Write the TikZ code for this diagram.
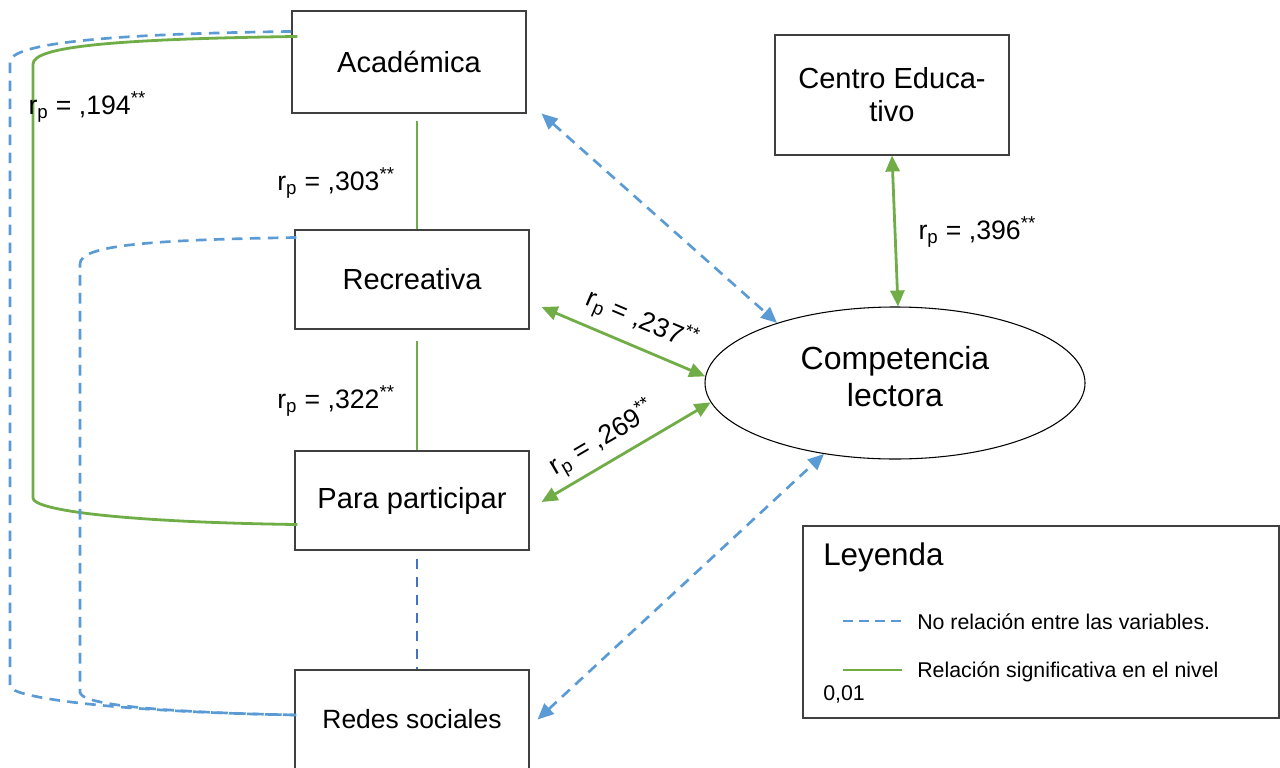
\documentclass[tikz,border=0pt]{standalone}
\usepackage{fontspec}
\setmainfont{Liberation Sans}
\usetikzlibrary{arrows.meta,calc,shapes.geometric}
\definecolor{grn}{HTML}{70AD47}
\definecolor{blu}{HTML}{5B9BD5}
\definecolor{dblu}{HTML}{4472C4}
\definecolor{edgegray}{HTML}{404040}
\begin{document}
\begin{tikzpicture}[x=0.75pt,y=-0.75pt,
 box/.style={draw=edgegray,line width=0.8pt,minimum width=175.5pt,inner sep=0pt,align=center,font=\fontsize{21.8}{24.75}\selectfont},
 gline/.style={draw=grn,line width=2.1pt},
 bdash/.style={draw=blu,line width=2pt,dash pattern=on 8pt off 5.5pt},
 dbdash/.style={draw=dblu,line width=2pt,dash pattern=on 7.5pt off 6pt},
 dbl/.style={{Triangle[length=12pt,width=10.5pt]}-{Triangle[length=12pt,width=10.5pt]}},
 lab/.style={font=\fontsize{20}{24}\selectfont,inner sep=1pt},
 legtxt/.style={font=\fontsize{16}{19}\selectfont,inner sep=0pt,anchor=west}
]
\useasboundingbox (0,0) rectangle (1280,767);
% nodes
\node[box,minimum height=76.5pt] (acad) at (409,62) {Académica};
\node[box,minimum height=74.25pt] (rec) at (412,279.5) {Recreativa};
\node[box,minimum height=74.25pt] (par) at (412,500.5) {Para participar};
\node[box,minimum height=74.25pt,font=\fontsize{19.8}{24}\selectfont] (red) at (412,719.5) {Redes sociales};
\node[box,minimum height=90pt] (cen) at (892,95) {Centro Educa-\\tivo};
\node[ellipse,draw=black,line width=0.8pt,minimum width=285pt,minimum height=114pt,inner sep=0pt,
  label={[align=center,font=\fontsize{24}{27.75}\selectfont,yshift=5pt]center:Competencia\\lectora}] (comp) at (895,383) {};

% vertical links
\draw[gline] ($(acad.south)+(8,7)$) -- ($(rec.north)+(5,0)$);
\draw[gline] ($(rec.south)+(5,11)$) -- ($(par.north)+(5,0)$);
\draw[dbdash] ($(par.south)+(5,8)$) -- ($(red.north)+(5,0)$);

% left curves
\draw[gline] ($(acad.north west)+(6,26)$) .. controls (120,39) and (33,46) .. (33,64)
  -- (33,498) .. controls (33,510) and (120,522) .. ($(par.south west)+(3,-26)$);
\draw[bdash] ($(acad.north west)+(0,21)$) .. controls (100,34) and (10,44) .. (10,62)
  -- (10,686) .. controls (10,698) and (120,712) .. ($(red.west)+(2,-4.5)$);
\draw[bdash] ($(rec.north west)+(2,8)$) .. controls (150,240) and (80,245) .. (80,264)
  -- (80,692) .. controls (80,704) and (150,712) .. ($(red.west)+(2,-4.5)$);

% arrows to ellipse
\draw[bdash,dbl] ($(acad.south east)+(15,0)$) -- (comp.153);
\draw[gline,dbl] ($(rec.east)+(12,27.5)$) -- node[lab,sloped,above=6pt,pos=0.55] {r\textsubscript{p} = ,237\textsuperscript{**}} (comp.178);
\draw[gline,dbl] ($(par.east)+(12,1.5)$) -- node[lab,sloped,above=4pt,pos=0.43] {r\textsubscript{p} = ,269\textsuperscript{**}} (comp.186);
\draw[bdash,dbl] ($(red.east)+(8,0)$) -- (comp.225);
\draw[gline,dbl] (cen.south) -- ($(comp.north)+(3,0)$);

% labels
\node[lab,anchor=west] (l194) at (27,107) {r\textsubscript{p} = ,194\textsuperscript{**}};
\node[lab] (l303) at (336,183) {r\textsubscript{p} = ,303\textsuperscript{**}};
\node[lab] (l322) at (336,401) {r\textsubscript{p} = ,322\textsuperscript{**}};
\node[lab,anchor=west] (l396) at (917,232) {r\textsubscript{p} = ,396\textsuperscript{**}};

% legend
\draw[draw=edgegray,line width=0.8pt] (803,526) rectangle (1279,718);
\node[inner sep=0pt,anchor=west,font=\fontsize{23.5}{27}\selectfont] (leg) at (823,557) {Leyenda};
\coordinate (d1) at (843,621); \coordinate (d2) at (902,621);
\draw[draw=blu,line width=1.5pt,dash pattern=on 7.5pt off 4.5pt] (d1) -- (d2);
\node[legtxt] (t1) at (917,622) {No relación entre las variables.};
\coordinate (g1) at (843,670); \coordinate (g2) at (902,670);
\draw[draw=grn,line width=1.5pt] (g1) -- (g2);
\node[legtxt] (t2) at (917,672) {Relación significativa en el nivel};
\node[legtxt] (t3) at (823,694) {0,01};
\end{tikzpicture}
\end{document}
